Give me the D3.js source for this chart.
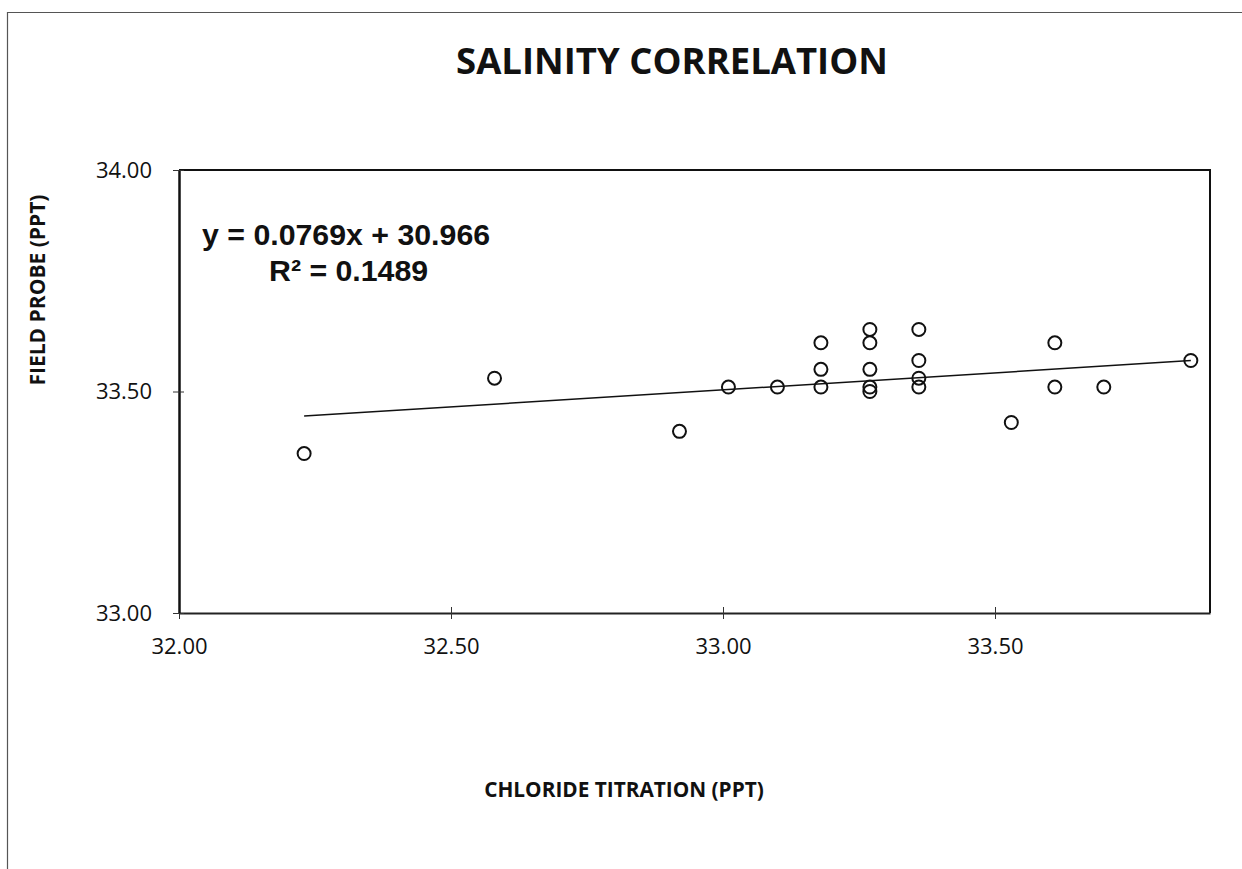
<!DOCTYPE html>
<html>
<head>
<meta charset="utf-8">
<script src="https://cdn.jsdelivr.net/npm/d3@7"></script>
<style>
  html, body { margin: 0; padding: 0; background: #fff; }
  svg { display: block; }
</style>
</head>
<body>
<script>
// ---- data ----
const chloride = [32.23, 32.58, 32.92, 33.01, 33.10, 33.18, 33.18, 33.18, 33.27, 33.27, 33.27, 33.27, 33.27, 33.36, 33.36, 33.36, 33.36, 33.53, 33.61, 33.61, 33.70, 33.86];
const probe    = [33.36, 33.53, 33.41, 33.51, 33.51, 33.61, 33.55, 33.51, 33.64, 33.61, 33.55, 33.51, 33.50, 33.64, 33.57, 33.53, 33.51, 33.43, 33.61, 33.51, 33.51, 33.57];
const xTicks = [32.00, 32.50, 33.00, 33.50];
const yTicks = [33.00, 33.50, 34.00];
const slope = 0.0769;
const intercept = 30.966;
const rSquared = 0.1489;
const titleText = "SALINITY CORRELATION";
const xLabel = "CHLORIDE TITRATION (PPT)";
const yLabel = "FIELD PROBE (PPT)";

const W = 1242, H = 869;
const svg = d3.select("body").append("svg").attr("width", W).attr("height", H);

// outer frame (left & top only visible)
svg.append("path").attr("d", `M7.5,869 V12.5 H1242`).attr("fill", "none").attr("stroke", "#555").attr("stroke-width", 1.2);

const x = d3.scaleLinear().domain([32, 32 + (1210 - 179) / 544]).range([179, 1210]);
const y = d3.scaleLinear().domain([33, 34]).range([613, 170]);

const font = "'Open Sans', 'Liberation Sans', sans-serif";
const eqFont = "'Liberation Sans', Arial, sans-serif";

// plot frame top & right
svg.append("path").attr("d", `M${x.range()[0]},${y(34)} H${x.range()[1]} V${y(33)}`)
  .attr("fill", "none").attr("stroke", "#111").attr("stroke-width", 2);

// x axis
const xAxis = svg.append("g").attr("transform", `translate(0,${y(33)})`)
  .call(d3.axisBottom(x).tickValues(xTicks).tickFormat(d3.format(".2f")).tickSizeInner(5).tickSizeOuter(0).tickPadding(20));
xAxis.select(".domain").attr("stroke", "#222").attr("stroke-width", 2.2);
xAxis.selectAll(".tick line").attr("y1", -6).attr("y2", 6).attr("stroke", "#333").attr("stroke-width", 1);
xAxis.selectAll(".tick text").attr("font-family", font).attr("font-size", 22).attr("fill", "#111");

// y axis
const yAxis = svg.append("g").attr("transform", `translate(${x.range()[0]},0)`)
  .call(d3.axisLeft(y).tickValues(yTicks).tickFormat(d3.format(".2f")).tickSizeInner(5).tickSizeOuter(0).tickPadding(22));
yAxis.select(".domain").attr("stroke", "#111").attr("stroke-width", 2.5);
yAxis.selectAll(".tick line").attr("x1", -6).attr("x2", 5).attr("stroke", "#333").attr("stroke-width", 1);
yAxis.selectAll(".tick text").attr("font-family", font).attr("font-size", 22).attr("fill", "#111");

// trend line
const xMin = d3.min(chloride), xMax = d3.max(chloride);
svg.append("line")
  .attr("x1", x(xMin)).attr("y1", y(slope * xMin + intercept))
  .attr("x2", x(xMax)).attr("y2", y(slope * xMax + intercept))
  .attr("stroke", "#111").attr("stroke-width", 1.5);

// points
svg.append("g").selectAll("circle").data(chloride.map((c, i) => [c, probe[i]]))
  .join("circle")
  .attr("cx", d => x(d[0])).attr("cy", d => y(d[1])).attr("r", 6.5)
  .attr("fill", "none").attr("stroke", "#111").attr("stroke-width", 2);

// equation
svg.append("text").attr("x", 202).attr("y", 245)
  .attr("font-family", eqFont).attr("font-weight", "bold").attr("font-size", 30.3).attr("fill", "#111")
  .text(`y = ${slope}x + ${intercept}`);
svg.append("text").attr("x", 269).attr("y", 281)
  .attr("font-family", eqFont).attr("font-weight", "bold").attr("font-size", 30.3).attr("fill", "#111")
  .text(`R² = ${rSquared}`);

// title
svg.append("text").attr("x", 672).attr("y", 74).attr("text-anchor", "middle")
  .attr("font-family", font).attr("font-weight", "bold").attr("font-size", 36.5).attr("fill", "#111")
  .text(titleText);

// axis labels
svg.append("text").attr("x", 624).attr("y", 797).attr("text-anchor", "middle")
  .attr("font-family", font).attr("font-weight", "bold").attr("font-size", 20.8).attr("fill", "#111")
  .text(xLabel);
svg.append("text").attr("transform", `translate(45,290) rotate(-90)`).attr("text-anchor", "middle")
  .attr("font-family", font).attr("font-weight", "bold").attr("font-size", 21).attr("fill", "#111")
  .text(yLabel);
</script>
</body>
</html>
